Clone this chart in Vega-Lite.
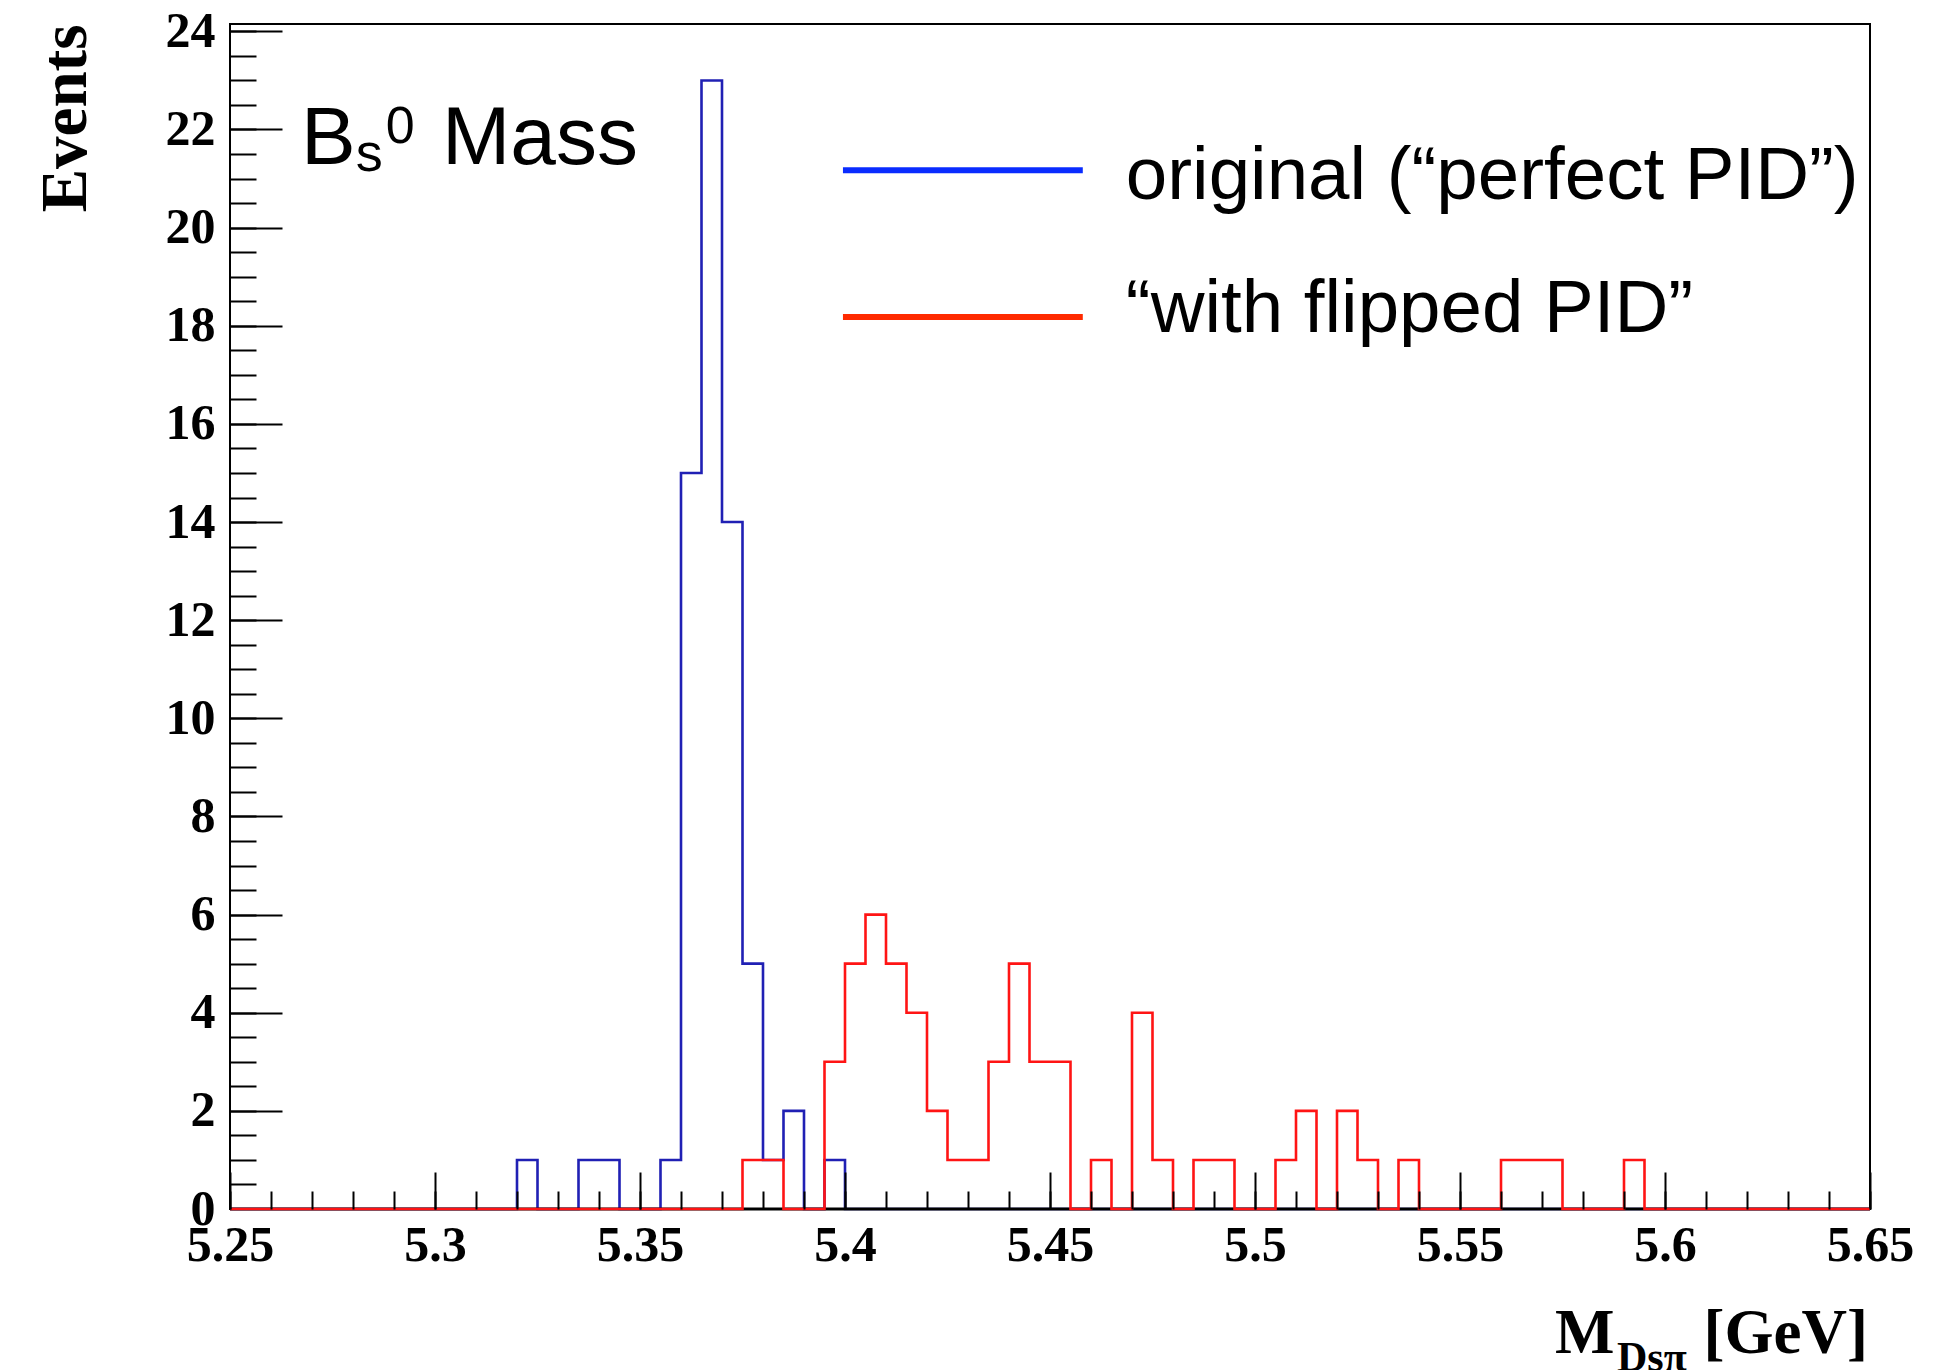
{
  "$schema": "https://vega.github.io/schema/vega-lite/v6.json",
  "width": 1640,
  "height": 1185,
  "autosize": {"type": "none"},
  "padding": {"left": 230, "top": 24, "right": 81, "bottom": 161},
  "background": "white",
  "config": {"view": {"stroke": "black", "strokeWidth": 2}},
  "datasets": {
    "orig": [
      {"lo":5.25,"hi":5.255,"n":0},{"lo":5.255,"hi":5.26,"n":0},{"lo":5.26,"hi":5.265,"n":0},{"lo":5.265,"hi":5.27,"n":0},
      {"lo":5.27,"hi":5.275,"n":0},{"lo":5.275,"hi":5.28,"n":0},{"lo":5.28,"hi":5.285,"n":0},{"lo":5.285,"hi":5.29,"n":0},
      {"lo":5.29,"hi":5.295,"n":0},{"lo":5.295,"hi":5.3,"n":0},{"lo":5.3,"hi":5.305,"n":0},{"lo":5.305,"hi":5.31,"n":0},
      {"lo":5.31,"hi":5.315,"n":0},{"lo":5.315,"hi":5.32,"n":0},{"lo":5.32,"hi":5.325,"n":1},{"lo":5.325,"hi":5.33,"n":0},
      {"lo":5.33,"hi":5.335,"n":0},{"lo":5.335,"hi":5.34,"n":1},{"lo":5.34,"hi":5.345,"n":1},{"lo":5.345,"hi":5.35,"n":0},
      {"lo":5.35,"hi":5.355,"n":0},{"lo":5.355,"hi":5.36,"n":1},{"lo":5.36,"hi":5.365,"n":15},{"lo":5.365,"hi":5.37,"n":23},
      {"lo":5.37,"hi":5.375,"n":14},{"lo":5.375,"hi":5.38,"n":5},{"lo":5.38,"hi":5.385,"n":1},{"lo":5.385,"hi":5.39,"n":2},
      {"lo":5.39,"hi":5.395,"n":0},{"lo":5.395,"hi":5.4,"n":1},{"lo":5.4,"hi":5.405,"n":0},{"lo":5.405,"hi":5.41,"n":0},
      {"lo":5.41,"hi":5.415,"n":0},{"lo":5.415,"hi":5.42,"n":0},{"lo":5.42,"hi":5.425,"n":0},{"lo":5.425,"hi":5.43,"n":0},
      {"lo":5.43,"hi":5.435,"n":0},{"lo":5.435,"hi":5.44,"n":0},{"lo":5.44,"hi":5.445,"n":0},{"lo":5.445,"hi":5.45,"n":0},
      {"lo":5.45,"hi":5.455,"n":0},{"lo":5.455,"hi":5.46,"n":0},{"lo":5.46,"hi":5.465,"n":0},{"lo":5.465,"hi":5.47,"n":0},
      {"lo":5.47,"hi":5.475,"n":0},{"lo":5.475,"hi":5.48,"n":0},{"lo":5.48,"hi":5.485,"n":0},{"lo":5.485,"hi":5.49,"n":0},
      {"lo":5.49,"hi":5.495,"n":0},{"lo":5.495,"hi":5.5,"n":0},{"lo":5.5,"hi":5.505,"n":0},{"lo":5.505,"hi":5.51,"n":0},
      {"lo":5.51,"hi":5.515,"n":0},{"lo":5.515,"hi":5.52,"n":0},{"lo":5.52,"hi":5.525,"n":0},{"lo":5.525,"hi":5.53,"n":0},
      {"lo":5.53,"hi":5.535,"n":0},{"lo":5.535,"hi":5.54,"n":0},{"lo":5.54,"hi":5.545,"n":0},{"lo":5.545,"hi":5.55,"n":0},
      {"lo":5.55,"hi":5.555,"n":0},{"lo":5.555,"hi":5.56,"n":0},{"lo":5.56,"hi":5.565,"n":0},{"lo":5.565,"hi":5.57,"n":0},
      {"lo":5.57,"hi":5.575,"n":0},{"lo":5.575,"hi":5.58,"n":0},{"lo":5.58,"hi":5.585,"n":0},{"lo":5.585,"hi":5.59,"n":0},
      {"lo":5.59,"hi":5.595,"n":0},{"lo":5.595,"hi":5.6,"n":0},{"lo":5.6,"hi":5.605,"n":0},{"lo":5.605,"hi":5.61,"n":0},
      {"lo":5.61,"hi":5.615,"n":0},{"lo":5.615,"hi":5.62,"n":0},{"lo":5.62,"hi":5.625,"n":0},{"lo":5.625,"hi":5.63,"n":0},
      {"lo":5.63,"hi":5.635,"n":0},{"lo":5.635,"hi":5.64,"n":0},{"lo":5.64,"hi":5.645,"n":0},{"lo":5.645,"hi":5.65,"n":0}
    ],
    "flip": [
      {"lo":5.25,"hi":5.255,"n":0},{"lo":5.255,"hi":5.26,"n":0},{"lo":5.26,"hi":5.265,"n":0},{"lo":5.265,"hi":5.27,"n":0},
      {"lo":5.27,"hi":5.275,"n":0},{"lo":5.275,"hi":5.28,"n":0},{"lo":5.28,"hi":5.285,"n":0},{"lo":5.285,"hi":5.29,"n":0},
      {"lo":5.29,"hi":5.295,"n":0},{"lo":5.295,"hi":5.3,"n":0},{"lo":5.3,"hi":5.305,"n":0},{"lo":5.305,"hi":5.31,"n":0},
      {"lo":5.31,"hi":5.315,"n":0},{"lo":5.315,"hi":5.32,"n":0},{"lo":5.32,"hi":5.325,"n":0},{"lo":5.325,"hi":5.33,"n":0},
      {"lo":5.33,"hi":5.335,"n":0},{"lo":5.335,"hi":5.34,"n":0},{"lo":5.34,"hi":5.345,"n":0},{"lo":5.345,"hi":5.35,"n":0},
      {"lo":5.35,"hi":5.355,"n":0},{"lo":5.355,"hi":5.36,"n":0},{"lo":5.36,"hi":5.365,"n":0},{"lo":5.365,"hi":5.37,"n":0},
      {"lo":5.37,"hi":5.375,"n":0},{"lo":5.375,"hi":5.38,"n":1},{"lo":5.38,"hi":5.385,"n":1},{"lo":5.385,"hi":5.39,"n":0},
      {"lo":5.39,"hi":5.395,"n":0},{"lo":5.395,"hi":5.4,"n":3},{"lo":5.4,"hi":5.405,"n":5},{"lo":5.405,"hi":5.41,"n":6},
      {"lo":5.41,"hi":5.415,"n":5},{"lo":5.415,"hi":5.42,"n":4},{"lo":5.42,"hi":5.425,"n":2},{"lo":5.425,"hi":5.43,"n":1},
      {"lo":5.43,"hi":5.435,"n":1},{"lo":5.435,"hi":5.44,"n":3},{"lo":5.44,"hi":5.445,"n":5},{"lo":5.445,"hi":5.45,"n":3},
      {"lo":5.45,"hi":5.455,"n":3},{"lo":5.455,"hi":5.46,"n":0},{"lo":5.46,"hi":5.465,"n":1},{"lo":5.465,"hi":5.47,"n":0},
      {"lo":5.47,"hi":5.475,"n":4},{"lo":5.475,"hi":5.48,"n":1},{"lo":5.48,"hi":5.485,"n":0},{"lo":5.485,"hi":5.49,"n":1},
      {"lo":5.49,"hi":5.495,"n":1},{"lo":5.495,"hi":5.5,"n":0},{"lo":5.5,"hi":5.505,"n":0},{"lo":5.505,"hi":5.51,"n":1},
      {"lo":5.51,"hi":5.515,"n":2},{"lo":5.515,"hi":5.52,"n":0},{"lo":5.52,"hi":5.525,"n":2},{"lo":5.525,"hi":5.53,"n":1},
      {"lo":5.53,"hi":5.535,"n":0},{"lo":5.535,"hi":5.54,"n":1},{"lo":5.54,"hi":5.545,"n":0},{"lo":5.545,"hi":5.55,"n":0},
      {"lo":5.55,"hi":5.555,"n":0},{"lo":5.555,"hi":5.56,"n":0},{"lo":5.56,"hi":5.565,"n":1},{"lo":5.565,"hi":5.57,"n":1},
      {"lo":5.57,"hi":5.575,"n":1},{"lo":5.575,"hi":5.58,"n":0},{"lo":5.58,"hi":5.585,"n":0},{"lo":5.585,"hi":5.59,"n":0},
      {"lo":5.59,"hi":5.595,"n":1},{"lo":5.595,"hi":5.6,"n":0},{"lo":5.6,"hi":5.605,"n":0},{"lo":5.605,"hi":5.61,"n":0},
      {"lo":5.61,"hi":5.615,"n":0},{"lo":5.615,"hi":5.62,"n":0},{"lo":5.62,"hi":5.625,"n":0},{"lo":5.625,"hi":5.63,"n":0},
      {"lo":5.63,"hi":5.635,"n":0},{"lo":5.635,"hi":5.64,"n":0},{"lo":5.64,"hi":5.645,"n":0},{"lo":5.645,"hi":5.65,"n":0}
    ]
  },
  "resolve": {"axis": {"x": "independent", "y": "independent"}},
  "layer": [
    {
      "data": {"name": "orig"},
      "transform": [{"fold": ["lo", "hi"], "as": ["edge", "x"]}],
      "mark": {"type": "line", "color": "#2020b4", "strokeWidth": 2.6, "interpolate": "linear"},
      "encoding": {
        "x": {"field": "x", "type": "quantitative",
              "scale": {"domain": [5.25, 5.65], "nice": false, "zero": false},
              "axis": {"orient": "bottom", "values": [5.25, 5.3, 5.35, 5.4, 5.45, 5.5, 5.55, 5.6, 5.65], "format": "~g",
                       "tickSize": -37, "tickWidth": 2, "tickColor": "black", "domain": false, "grid": false, "title": null,
                       "labelFont": "Liberation Serif", "labelFontWeight": "bold", "labelFontSize": 50, "labelColor": "black",
                       "labelPadding": 48, "labelFlush": false, "labelOverlap": false, "labelBound": false, "zindex": 1}},
        "y": {"field": "n", "type": "quantitative",
              "scale": {"domain": [0, 24.15], "nice": false, "zero": true},
              "axis": {"orient": "left", "values": [0, 2, 4, 6, 8, 10, 12, 14, 16, 18, 20, 22, 24],
                       "tickSize": -52, "tickWidth": 2, "tickColor": "black",
                       "tickOpacity": {"condition": {"test": "datum.value === 0", "value": 0}, "value": 1},
                       "domain": false, "grid": false,
                       "labelFont": "Liberation Serif", "labelFontWeight": "bold", "labelFontSize": 50, "labelColor": "black",
                       "labelPadding": 67, "labelOverlap": false, "labelBound": false, "labelFlush": false,
                       "title": "Events", "titleFont": "Liberation Serif", "titleFontWeight": "bold", "titleFontSize": 65,
                       "titleColor": "black", "titleAnchor": "end", "titlePadding": 66, "zindex": 1}},
        "order": [{"field": "x", "type": "quantitative"}, {"field": "edge", "type": "nominal"}]
      }
    },
    {
      "data": {"values": [{}]},
      "mark": {"type": "rule", "color": "black", "strokeWidth": 3},
      "encoding": {
        "x": {"datum": 5.25, "type": "quantitative", "axis": null},
        "x2": {"datum": 5.65},
        "y": {"datum": 0, "type": "quantitative", "axis": null}
      }
    },
    {
      "data": {"name": "flip"},
      "transform": [{"fold": ["lo", "hi"], "as": ["edge", "x"]}],
      "mark": {"type": "line", "color": "#ff1414", "strokeWidth": 2.6, "interpolate": "linear"},
      "encoding": {
        "x": {"field": "x", "type": "quantitative",
              "scale": {"domain": [5.25, 5.65], "nice": false, "zero": false},
              "axis": {"orient": "bottom", "values": [5.25,5.26,5.27,5.28,5.29,5.3,5.31,5.32,5.33,5.34,5.35,5.36,5.37,5.38,5.39,5.4,5.41,5.42,5.43,5.44,5.45,5.46,5.47,5.48,5.49,5.5,5.51,5.52,5.53,5.54,5.55,5.56,5.57,5.58,5.59,5.6,5.61,5.62,5.63,5.64,5.65],
                       "tickSize": -18, "tickWidth": 2, "tickColor": "black", "labels": false, "domain": false, "grid": false, "title": null, "zindex": 1}},
        "y": {"field": "n", "type": "quantitative",
              "scale": {"domain": [0, 24.15], "nice": false, "zero": true},
              "axis": {"orient": "left", "values": [0.5,1,1.5,2,2.5,3,3.5,4,4.5,5,5.5,6,6.5,7,7.5,8,8.5,9,9.5,10,10.5,11,11.5,12,12.5,13,13.5,14,14.5,15,15.5,16,16.5,17,17.5,18,18.5,19,19.5,20,20.5,21,21.5,22,22.5,23,23.5,24],
                       "tickSize": -26, "tickWidth": 2, "tickColor": "black", "labels": false, "domain": false, "grid": false, "title": null, "zindex": 1}},
        "order": [{"field": "x", "type": "quantitative"}, {"field": "edge", "type": "nominal"}]
      }
    },
    {
      "data": {"values": [{}]},
      "mark": {"type": "rule", "color": "#0a2cff", "strokeWidth": 6},
      "encoding": {
        "x": {"datum": 5.3995, "type": "quantitative", "axis": null},
        "x2": {"datum": 5.458},
        "y": {"datum": 21.17, "type": "quantitative", "axis": null}
      }
    },
    {
      "data": {"values": [{}]},
      "mark": {"type": "rule", "color": "#ff2a00", "strokeWidth": 6},
      "encoding": {
        "x": {"datum": 5.3995, "type": "quantitative", "axis": null},
        "x2": {"datum": 5.458},
        "y": {"datum": 18.18, "type": "quantitative", "axis": null}
      }
    },
    {
      "data": {"values": [{"label": "original (“perfect PID”)"}]},
      "mark": {"type": "text", "font": "Liberation Sans", "fontSize": 74.5, "color": "black", "align": "left", "baseline": "alphabetic"},
      "encoding": {
        "x": {"datum": 5.4685, "type": "quantitative", "axis": null},
        "y": {"datum": 20.58, "type": "quantitative", "axis": null},
        "text": {"field": "label"}
      }
    },
    {
      "data": {"values": [{"label": "“with flipped PID”"}]},
      "mark": {"type": "text", "font": "Liberation Sans", "fontSize": 74.5, "color": "black", "align": "left", "baseline": "alphabetic"},
      "encoding": {
        "x": {"datum": 5.4685, "type": "quantitative", "axis": null},
        "y": {"datum": 17.87, "type": "quantitative", "axis": null},
        "text": {"field": "label"}
      }
    },
    {
      "data": {"values": [{"label": "B"}]},
      "mark": {"type": "text", "font": "Liberation Sans", "fontSize": 82, "color": "black", "align": "left", "baseline": "alphabetic"},
      "encoding": {
        "x": {"datum": 5.2673, "type": "quantitative", "axis": null},
        "y": {"datum": 21.3, "type": "quantitative", "axis": null},
        "text": {"field": "label"}
      }
    },
    {
      "data": {"values": [{"label": "s"}]},
      "mark": {"type": "text", "font": "Liberation Sans", "fontSize": 54, "color": "black", "align": "left", "baseline": "alphabetic"},
      "encoding": {
        "x": {"datum": 5.2807, "type": "quantitative", "axis": null},
        "y": {"datum": 21.15, "type": "quantitative", "axis": null},
        "text": {"field": "label"}
      }
    },
    {
      "data": {"values": [{"label": "0"}]},
      "mark": {"type": "text", "font": "Liberation Sans", "fontSize": 52, "color": "black", "align": "left", "baseline": "alphabetic"},
      "encoding": {
        "x": {"datum": 5.288, "type": "quantitative", "axis": null},
        "y": {"datum": 21.72, "type": "quantitative", "axis": null},
        "text": {"field": "label"}
      }
    },
    {
      "data": {"values": [{"label": "Mass"}]},
      "mark": {"type": "text", "font": "Liberation Sans", "fontSize": 82, "color": "black", "align": "left", "baseline": "alphabetic"},
      "encoding": {
        "x": {"datum": 5.3017, "type": "quantitative", "axis": null},
        "y": {"datum": 21.3, "type": "quantitative", "axis": null},
        "text": {"field": "label"}
      }
    },
    {
      "data": {"values": [{"label": "M"}]},
      "mark": {"type": "text", "font": "Liberation Serif", "fontWeight": "bold", "fontSize": 63, "color": "black", "align": "left", "baseline": "alphabetic"},
      "encoding": {
        "x": {"datum": 5.5732, "type": "quantitative", "axis": null},
        "y": {"datum": -2.935, "type": "quantitative", "axis": null},
        "text": {"field": "label"}
      }
    },
    {
      "data": {"values": [{"label": "Dsπ"}]},
      "mark": {"type": "text", "font": "Liberation Serif", "fontWeight": "bold", "fontSize": 42, "color": "black", "align": "left", "baseline": "alphabetic"},
      "encoding": {
        "x": {"datum": 5.5883, "type": "quantitative", "axis": null},
        "y": {"datum": -3.3, "type": "quantitative", "axis": null},
        "text": {"field": "label"}
      }
    },
    {
      "data": {"values": [{"label": "[GeV]"}]},
      "mark": {"type": "text", "font": "Liberation Serif", "fontWeight": "bold", "fontSize": 63, "color": "black", "align": "right", "baseline": "alphabetic"},
      "encoding": {
        "x": {"datum": 5.6495, "type": "quantitative", "axis": null},
        "y": {"datum": -2.935, "type": "quantitative", "axis": null},
        "text": {"field": "label"}
      }
    }
  ]
}
